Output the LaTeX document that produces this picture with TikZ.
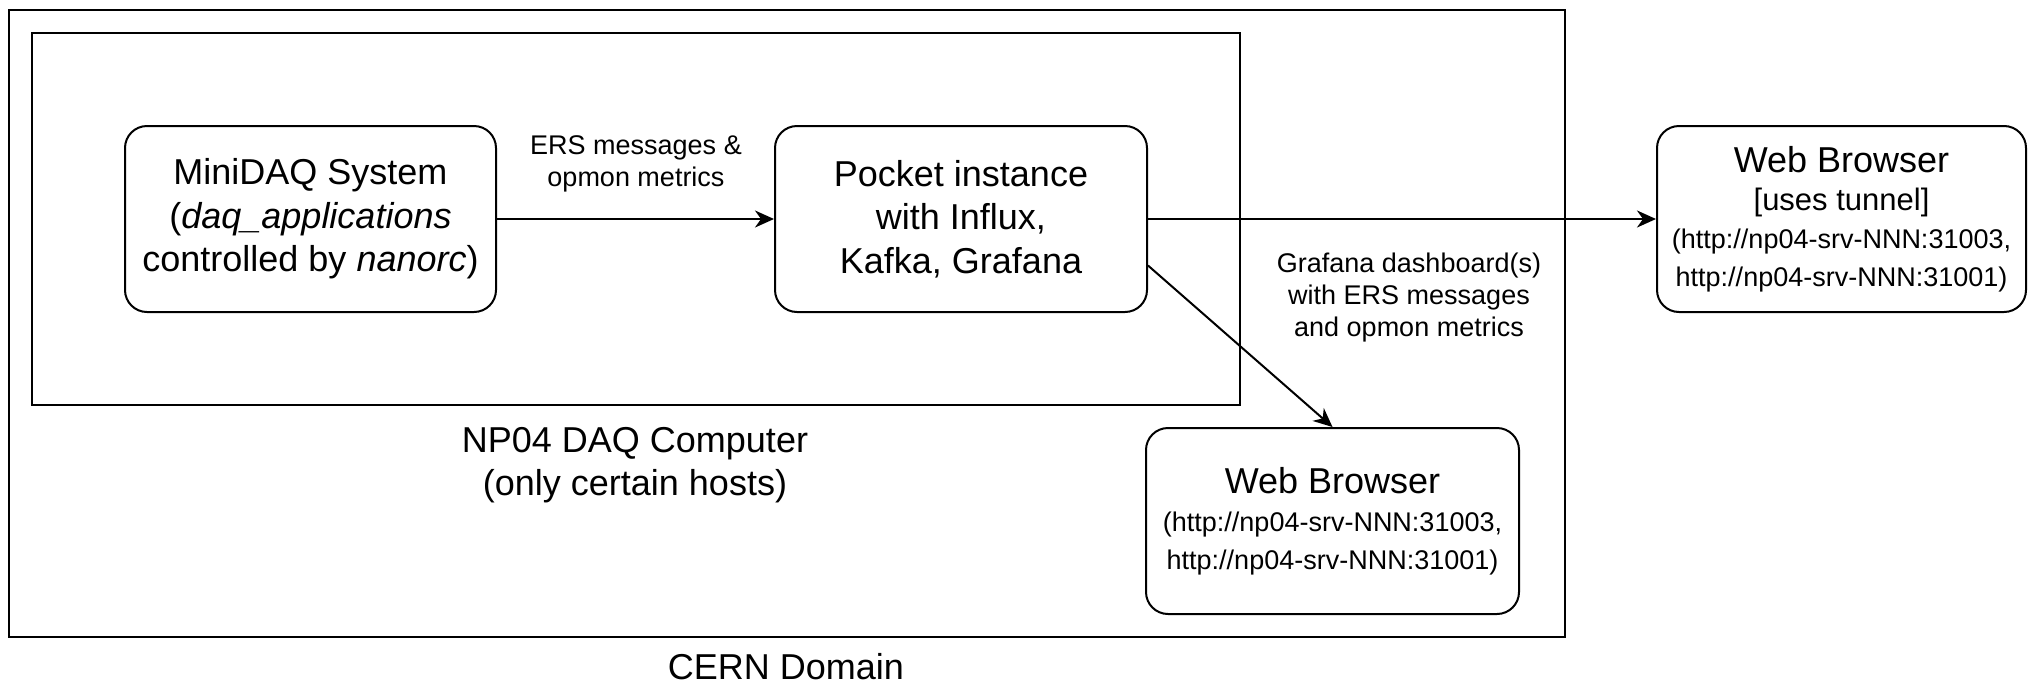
\documentclass[tikz,border=0pt]{standalone}
\usepackage{fontspec}
\setmainfont{Liberation Sans}
\usetikzlibrary{arrows.meta}
\begin{document}
\begin{tikzpicture}[x=1pt,y=-1pt,
  line width=2pt,
  roundbox/.style={draw, rounded corners=22pt, inner sep=0pt, align=center, minimum height=186pt},
  framebox/.style={draw, inner sep=0pt},
  bigtxt/.style={font=\fontsize{36}{43.5}\selectfont},
  smalltxt/.style={font=\fontsize{27}{32}\selectfont},
  urltxt/.style={font=\fontsize{27}{38}\selectfont},
  arrowline/.style={-{Stealth[length=19pt,width=17pt,inset=6pt]}, line width=2pt},
]
\useasboundingbox (0,0) rectangle (2028,686);
% containers
\node[framebox, minimum width=1556pt, minimum height=627pt] (cern) at (787,323.5) {};
\node[framebox, minimum width=1208pt, minimum height=372pt] (np04) at (636,219) {};
% boxes
\node[roundbox, bigtxt, minimum width=371pt] (mini) at (310.5,219)
  {MiniDAQ System\\(\textit{daq\_applications}\\controlled by \textit{nanorc})};
\node[roundbox, bigtxt, minimum width=372pt] (pocket) at (961,219)
  {Pocket instance\\with Influx,\\Kafka, Grafana};
\node[roundbox, urltxt, minimum width=369pt] (wbr) at (1841.5,219)
  {{\fontsize{36}{38}\selectfont Web Browser}\\{\fontsize{31}{38}\selectfont [uses tunnel]}\\(http://np04-srv-NNN:31003,\\http://np04-srv-NNN:31001)};
\node[roundbox, urltxt, minimum width=373pt] (wbb) at (1332.5,521)
  {{\fontsize{36}{38}\selectfont Web Browser}\\(http://np04-srv-NNN:31003,\\http://np04-srv-NNN:31001)};
% labels
\node[bigtxt, align=center] (np04lbl) at (635,465) {NP04 DAQ Computer\\(only certain hosts)};
\node[bigtxt, inner sep=0pt] (cernlbl) at (786,667) {CERN Domain};
\node[smalltxt, align=center] (erslbl) at (636,164) {ERS messages \&\\opmon metrics};
\node[smalltxt, align=center] (graflbl) at (1409,298) {Grafana dashboard(s)\\with ERS messages\\and opmon metrics};
% connectors
\draw[arrowline] (mini.east) -- (pocket.west);
\draw[arrowline] (pocket.east) -- (wbr.west);
\draw[arrowline] ([yshift=-46.5pt]pocket.east) -- (wbb.north);
\end{tikzpicture}
\end{document}
